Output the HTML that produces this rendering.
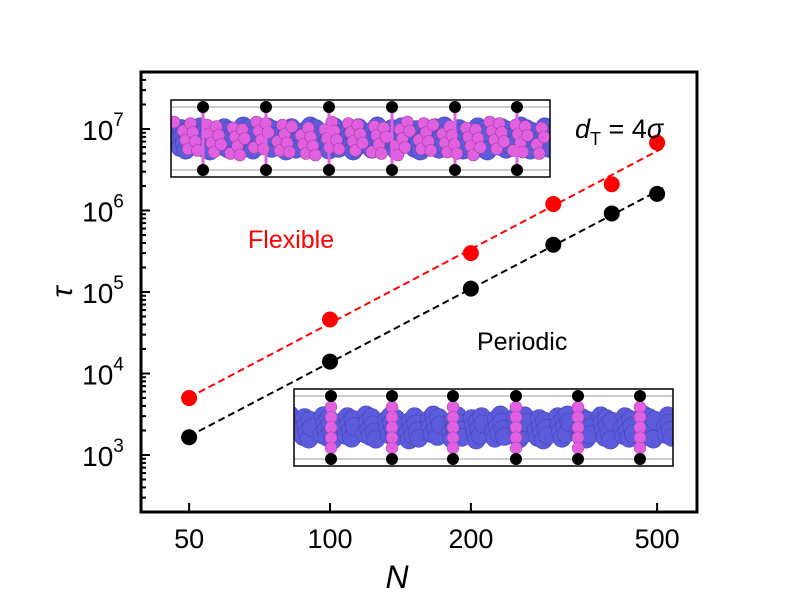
<!DOCTYPE html>
<html><head><meta charset="utf-8"><style>
body{margin:0;background:#fff;}
svg{display:block;font-family:"Liberation Sans",Arial,sans-serif;}
</style></head><body>
<svg id="c" width="805" height="616" viewBox="0 0 805 616">
<rect width="805" height="616" fill="#fff"/>
<g id="insets"></g>
<g id="marks"></g>
<rect x="141" y="72" width="556" height="440" fill="none" stroke="#000" stroke-width="3"/>
<g id="axes"></g>
<text x="575" y="138" font-size="27"><tspan font-style="italic">d</tspan><tspan font-size="18" dy="7">T</tspan><tspan dy="-7"> = 4</tspan><tspan font-style="italic">σ</tspan></text>
<text x="248" y="248" font-size="25" fill="#ff0000">Flexible</text>
<text x="477" y="350" font-size="25" fill="#000">Periodic</text>
<text x="397" y="588" font-size="32" font-style="italic" text-anchor="middle">N</text>
<text x="72" y="292" font-size="30" font-style="italic" text-anchor="middle" transform="rotate(-90 72 292)">τ</text>
</svg>
<script>
const categoriesN=[50,100,200,300,400,500];
const flexibleTau=[5000,46000,300000,1200000,2100000,6800000];
const periodicTau=[1650,14000,110000,380000,920000,1600000];
const xTicks=[50,100,200,500];
const yTicks=[3,4,5,6,7];
const NS="http://www.w3.org/2000/svg";
const X=v=>330+468*Math.log10(v/100);
const Y=v=>129+81.5*(7-Math.log10(v));
function el(t,a,p){const e=document.createElementNS(NS,t);for(const k in a)e.setAttribute(k,a[k]);document.getElementById(p).appendChild(e);return e;}
xTicks.forEach(t=>{
 const l=el('line',{x1:X(t),x2:X(t),y1:512,y2:503,stroke:'#000','stroke-width':2},'axes');
 
 
 const tx=el('text',{x:X(t),y:548,'font-size':27,'text-anchor':'middle'},'axes');tx.textContent=t;
 
 
});
for(let d=2;d<=7;d++){for(let m=1;m<10;m++){const v=m*Math.pow(10,d);const y=Y(v);if(y<73||y>511)continue;
 const l=el('line',{x1:141,x2:141+(m==1?9:5),y1:y,y2:y,stroke:'#000','stroke-width':2},'axes');
 
 }}
yTicks.forEach(p=>{
 const t=el('text',{x:103,y:Y(Math.pow(10,p))+11,'font-size':28,'text-anchor':'middle'},'axes');
 t.innerHTML='10<tspan font-size="19" dy="-14">'+p+'</tspan>';
 
 
});
function fit(ys){const xs=categoriesN.map(v=>Math.log10(v)),ls=ys.map(v=>Math.log10(v));const n=xs.length,mx=xs.reduce((a,b)=>a+b)/n,my=ls.reduce((a,b)=>a+b)/n;let sxy=0,sxx=0;xs.forEach((x,i)=>{sxy+=(x-mx)*(ls[i]-my);sxx+=(x-mx)*(x-mx)});const b=sxy/sxx,a=my-b*mx;return v=>Math.pow(10,a+b*Math.log10(v));}
function series(ys,col,name){
 const f=fit(ys);
 const l=el('line',{x1:X(50),y1:Y(f(50)),x2:X(520),y2:Y(f(520)),stroke:col,'stroke-width':2,'stroke-dasharray':'7,4'},'marks');
 
 
 ys.forEach((v,i)=>{const c=el('circle',{cx:X(categoriesN[i]),cy:Y(v),r:8,fill:col},'marks');
 
 });
}
series(flexibleTau,'#ff0000','flexible');
series(periodicTau,'#000000','periodic');
function inset(x0,y0,w,h,flex,pos,name){
 const g=el('g',{},'insets');
 
 
 const gid=name+'-g';g.id=gid;
 el('rect',{x:x0,y:y0,width:w,height:h,fill:'#fff'},gid);
 el('line',{x1:x0,x2:x0+w,y1:y0+7,y2:y0+7,stroke:'#999','stroke-width':1},gid);
 el('line',{x1:x0,x2:x0+w,y1:y0+h-7,y2:y0+h-7,stroke:'#999','stroke-width':1},gid);
 const cl=el('clipPath',{id:gid+'-clip'},gid);
 const r=document.createElementNS(NS,'rect');r.setAttribute('x',x0);r.setAttribute('y',y0);r.setAttribute('width',w);r.setAttribute('height',h);cl.appendChild(r);
 const band=el('g',{'clip-path':'url(#'+gid+'-clip)'},gid);band.id=gid+'-band';
 for(let i=0;i<160;i++){const cx=x0+i*w/159+((i*17)%9-4),cy=y0+h/2+((i*37)%29-14)*0.9;el('circle',{cx:cx,cy:cy,r:9,fill:'#5b5bdc',stroke:'#4646b4','stroke-width':0.6},gid+'-band');}
 pos.forEach(px=>{
  if(!flex){el('line',{x1:px,x2:px,y1:y0+8,y2:y0+h-8,stroke:'#e060e0','stroke-width':4},gid);
   for(let k=0;k<5;k++)el('circle',{cx:px,cy:y0+18+k*(h-36)/4,r:6,fill:'#e060e0',stroke:'#b040b0','stroke-width':0.5},gid);}
  else{el('line',{x1:px,x2:px,y1:y0+8,y2:y0+h-8,stroke:'#e060e0','stroke-width':3},gid);}
  el('circle',{cx:px,cy:y0+7,r:6,fill:'#000'},gid);
  el('circle',{cx:px,cy:y0+h-7,r:6,fill:'#000'},gid);
 });
 if(flex){for(let i=0;i<110;i++){const cx=x0+6+i*(w-12)/109+((i*13)%7-3),cy=y0+h/2+((i*29)%23-11)*1.5;el('circle',{cx:cx,cy:cy,r:6,fill:'#e060e0',stroke:'#a040a0','stroke-width':0.6},gid+'-band');}}
 el('rect',{x:x0,y:y0,width:w,height:h,fill:'none',stroke:'#000','stroke-width':1.5},gid);
}
inset(171,100,379,77,true,[203,266,329,392,455,517],'flexible-inset');
inset(294,389,379,77,false,[331,392,453,516,578,640],'periodic-inset');
</script>
</body></html>
